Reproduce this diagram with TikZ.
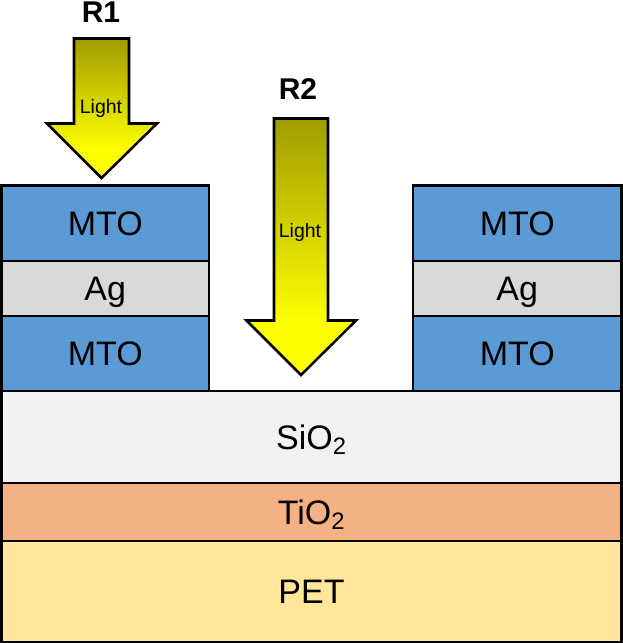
\documentclass[tikz,border=0pt]{standalone}
\usepackage{fontspec}
\setmainfont{Liberation Sans}
\definecolor{mto}{HTML}{5B9BD5}
\definecolor{agc}{HTML}{D9D9D9}
\definecolor{sio}{HTML}{F2F2F2}
\definecolor{tio}{HTML}{F4B183}
\definecolor{pet}{HTML}{FFE699}
\definecolor{arrowtop}{HTML}{A09C00}
\pgfdeclareverticalshading{lightshade}{100bp}{color(0bp)=(yellow); color(35bp)=(yellow); color(75bp)=(arrowtop); color(100bp)=(arrowtop)}
\tikzset{
  layer/.style={draw=black,line width=1.9pt,inner sep=0pt,outer sep=0pt,font=\fontsize{25.5}{30}\selectfont},
  lightarrow/.style={draw=black,line width=1.9pt,miter limit=10,shading=lightshade},
  lightlabel/.style={inner sep=0pt,font=\fontsize{14.6}{17}\selectfont},
  runlabel/.style={inner sep=0pt,font=\bfseries\fontsize{22.5}{26}\selectfont}
}
\newcommand{\layerbox}[7]{% name x0 y0 x1 y1 fill text
  \pgfmathsetmacro{\boxw}{(#4-#2)*0.75}\pgfmathsetmacro{\boxh}{(#5-#3)*0.75}
  \node[layer,fill=#6,minimum width=\boxw pt,minimum height=\boxh pt] (#1) at ({(#2+#4)/2},{(#3+#5)/2}) {\raisebox{-9pt}[0pt][0pt]{#7}};}
\begin{document}
\begin{tikzpicture}[x=0.75pt,y=-0.75pt]
\useasboundingbox (0,0) rectangle (623,643);
\fill[white] (0,0) rectangle (623,643);
\layerbox{sio}{1.5}{391}{621.5}{483}{sio}{SiO\textsubscript{2}}
\layerbox{tio}{1.5}{483}{621.5}{541}{tio}{TiO\textsubscript{2}}
\layerbox{pet}{1.5}{541}{621.5}{642}{pet}{PET}
\layerbox{lmb}{1.5}{316}{209}{391}{mto}{MTO}
\layerbox{lag}{1.5}{261}{209}{316}{agc}{Ag}
\layerbox{lmt}{1.5}{185.5}{209}{261}{mto}{MTO}
\layerbox{rmb}{413}{316}{621.5}{391}{mto}{MTO}
\layerbox{rag}{413}{261}{621.5}{316}{agc}{Ag}
\layerbox{rmt}{413}{185.5}{621.5}{261}{mto}{MTO}
\path[lightarrow] (74,38.5) -- (129,38.5) -- (129,123.5) -- (157,123.5) -- (101.5,178) -- (47,123.5) -- (74,123.5) -- cycle;
\path[lightarrow] (274,118.5) -- (328,118.5) -- (328,320.5) -- (356,320.5) -- (301,375) -- (246.5,320.5) -- (274,320.5) -- cycle;
\node[lightlabel] (l1) at (101,108.5) {Light};
\node[lightlabel] (l2) at (300,232) {Light};
\node[runlabel] (r1) at (101,12) {R1};
\node[runlabel] (r2) at (298,89) {R2};
\end{tikzpicture}
\end{document}
